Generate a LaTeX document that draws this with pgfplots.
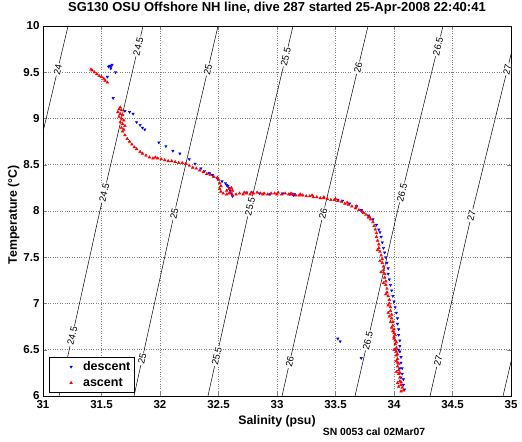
\documentclass[border=0pt]{standalone}
\usepackage{fontspec}
\setmainfont{Liberation Sans}
\usepackage{pgfplots}
\pgfplotsset{compat=1.18}
\begin{document}
\begin{tikzpicture}
\tikzset{clabel/.style={fill=white, inner sep=1pt, rotate=77, font=\fontsize{9.5}{10}\selectfont}}
\begin{axis}[
  name=ax,
  width=468pt, height=370pt, scale only axis,
  xmin=31, xmax=35, ymin=6, ymax=10,
  xtick={31,31.5,...,35}, ytick={6,6.5,...,10},
  grid=major, major grid style={dotted, line width=0.5pt, black!50},
  tick align=inside, major tick length=4pt,
  axis line style={line width=0.6pt},
  /pgf/number format/assume math mode=true,
  ticklabel style={font=\bfseries\fontsize{11.5}{13}\selectfont},
  xticklabel style={anchor=base, yshift=-13pt},
  title={SG130 OSU Offshore NH line, dive 287 started 25-Apr-2008 22:40:41},
  title style={font=\bfseries\fontsize{13}{15}\selectfont, at={(axis description cs:0.5,1.022)}, anchor=base},
  xlabel={Salinity (psu)}, ylabel={Temperature (°C)},
  label style={font=\bfseries\fontsize{12.3}{14}\selectfont},
  xlabel style={at={(axis description cs:0.5,-0.078)}, anchor=base},
  ylabel style={at={(axis description cs:-0.0556,0.49)}, anchor=base},
  legend style={at={(axis description cs:0.0128,0.0108)}, anchor=south west,
    font=\bfseries\fontsize{12.5}{14}\selectfont, draw=black, inner xsep=2pt, inner ysep=2pt, row sep=2pt},
  legend cell align=left,
  legend image code/.code={\path[draw=none, fill=none] (0cm,0cm) -- (1.05cm,0cm); \draw[#1, only marks] plot coordinates {(0.7cm,0cm)};},
]
% sigma-t contours
\addplot[black, line width=0.5pt, forget plot] coordinates {(30.49,6) (30.84,8) (31.214,10)};
\addplot[black, line width=0.5pt, forget plot] coordinates {(31.137,6) (31.486,8) (31.855,10)};
\addplot[black, line width=0.5pt, forget plot] coordinates {(31.778,6) (32.127,8) (32.496,10)};
\addplot[black, line width=0.5pt, forget plot] coordinates {(32.41,6) (32.76,8) (33.137,10)};
\addplot[black, line width=0.5pt, forget plot] coordinates {(33.043,6) (33.40,8) (33.778,10)};
\addplot[black, line width=0.5pt, forget plot] coordinates {(33.667,6) (34.03,8) (34.419,10)};
\addplot[black, line width=0.5pt, forget plot] coordinates {(34.308,6) (34.67,8) (35.06,10)};
\addplot[black, line width=0.5pt, forget plot] coordinates {(34.932,6) (35.30,8) (35.70,10)};
\node[clabel] at (axis cs:31.126,9.53) {24};
\node[clabel] at (axis cs:31.814,9.78) {24.5};
\node[clabel] at (axis cs:31.523,8.20) {24.5};
\node[clabel] at (axis cs:31.250,6.65) {24.5};
\node[clabel] at (axis cs:32.409,9.53) {25};
\node[clabel] at (axis cs:32.122,7.97) {25};
\node[clabel] at (axis cs:31.848,6.40) {25};
\node[clabel] at (axis cs:33.075,9.67) {25.5};
\node[clabel] at (axis cs:32.769,8.05) {25.5};
\node[clabel] at (axis cs:32.485,6.43) {25.5};
\node[clabel] at (axis cs:33.693,9.55) {26};
\node[clabel] at (axis cs:33.395,7.97) {26};
\node[clabel] at (axis cs:33.109,6.37) {26};
\node[clabel] at (axis cs:34.376,9.78) {26.5};
\node[clabel] at (axis cs:34.069,8.20) {26.5};
\node[clabel] at (axis cs:33.776,6.60) {26.5};
\node[clabel] at (axis cs:34.968,9.53) {27};
\node[clabel] at (axis cs:34.661,7.95) {27};
\node[clabel] at (axis cs:34.377,6.38) {27};
% descent
\addplot[only marks, mark=triangle*, mark size=1.4pt, color=blue, mark options={rotate=180, fill=blue, draw=blue}] coordinates {
(31.57,9.57) (31.58,9.56) (31.59,9.58) (31.56,9.56) (31.58,9.54) (31.62,9.50) (31.55,9.45)
(31.60,9.22) (31.70,9.08) (31.74,9.07) (31.77,9.05) (31.80,8.96) (31.83,8.93) (31.85,8.90)
(31.87,8.88) (31.99,8.74) (32.05,8.70) (32.11,8.65) (32.17,8.62) (32.25,8.56) (32.30,8.51)
(32.35,8.46) (32.38,8.43) (32.42,8.41) (32.45,8.39) (32.49,8.35) (32.53,8.32) (32.56,8.30)
(32.57,8.28) (32.59,8.25) (32.58,8.27) (32.60,8.22) (32.61,8.19) (32.62,8.16) (32.74,8.20)
(32.79,8.20) (32.85,8.19) (32.94,8.18) (33.05,8.19) (33.11,8.18) (33.15,8.18) (33.14,8.17)
(33.52,8.12) (33.56,8.11) (33.62,8.08) (33.68,8.05) (33.72,8.01) (33.78,7.95) (33.82,7.91)
(33.85,7.85) (33.87,7.80) (33.88,7.77) (33.89,7.72) (33.90,7.66) (33.91,7.60) (33.92,7.55)
(33.93,7.50) (33.94,7.44) (33.95,7.38) (33.95,7.32) (33.96,7.26) (33.97,7.20) (33.98,7.14)
(33.99,7.08) (34.00,7.02) (34.01,6.96) (34.02,6.90) (34.03,6.84) (34.03,6.78) (34.04,6.72)
(34.04,6.66) (34.05,6.60) (34.05,6.54) (34.05,6.48) (34.06,6.42) (34.06,6.36) (34.07,6.30)
(34.07,6.24) (34.08,6.18) (34.08,6.12) (34.09,6.07) (34.04,6.50) (34.05,6.30) (34.06,6.20)
(33.52,6.62) (33.54,6.59) (33.72,6.41)
};
\addlegendentry{descent}
% ascent
\addplot[only marks, mark=triangle*, mark size=1.6pt, color=red, mark options={fill=red, draw=red}] coordinates {
(31.41,9.53) (31.42,9.52) (31.44,9.50) (31.46,9.48) (31.48,9.46) (31.50,9.45) (31.52,9.43)
(31.53,9.41) (31.55,9.39)
(31.66,9.12) (31.65,9.10) (31.67,9.09) (31.64,9.07) (31.66,9.05) (31.68,9.04) (31.65,9.02)
(31.67,9.00) (31.69,8.98) (31.66,8.96) (31.68,8.94) (31.70,8.92) (31.67,8.90) (31.69,8.88)
(31.68,8.86) (31.70,8.82) (31.72,8.78) (31.74,8.75) (31.76,8.72) (31.78,8.69) (31.80,8.67)
(31.83,8.64) (31.85,8.62) (31.88,8.60) (31.91,8.58) (31.94,8.57) (31.96,8.58) (31.98,8.57)
(32.01,8.56) (32.04,8.55) (32.07,8.54) (32.10,8.54) (32.13,8.53) (32.16,8.52) (32.19,8.52)
(32.22,8.51) (32.25,8.49) (32.28,8.47) (32.31,8.46) (32.34,8.44) (32.37,8.42) (32.40,8.40)
(32.43,8.39) (32.46,8.37) (32.49,8.36) (32.50,8.34)
(32.51,8.30) (32.52,8.27) (32.51,8.24) (32.52,8.21) (32.54,8.19) (32.57,8.18) (32.60,8.20)
(32.62,8.22) (32.61,8.25) (32.59,8.24) (32.57,8.22) (32.59,8.19) (32.62,8.17) (32.65,8.18)
(32.68,8.19)
(32.71,8.18) (32.74,8.19) (32.77,8.18) (32.80,8.19) (32.83,8.20) (32.86,8.19) (32.89,8.19)
(32.92,8.18) (32.95,8.19) (32.98,8.19) (33.01,8.20) (33.04,8.18) (33.07,8.19) (33.10,8.18)
(33.13,8.18) (33.16,8.17) (33.19,8.17) (33.22,8.17) (33.25,8.16) (33.28,8.16) (33.31,8.15)
(33.34,8.15) (33.37,8.14) (33.40,8.14) (33.43,8.13) (33.46,8.12) (33.49,8.12) (33.52,8.11)
(33.55,8.10) (33.58,8.08) (33.61,8.07) (33.64,8.05) (33.67,8.03) (33.70,8.01) (33.73,7.99)
(33.76,7.96) (33.78,7.93) (33.80,7.91) (33.82,7.88) (33.83,7.84) (33.84,7.80) (33.85,7.76)
(33.85,7.72) (33.86,7.68) (33.87,7.64) (33.87,7.60) (33.88,7.56) (33.89,7.52) (33.90,7.48)
(33.90,7.44) (33.91,7.40) (33.91,7.36) (33.92,7.32) (33.92,7.28) (33.93,7.24) (33.93,7.20)
(33.94,7.16) (33.94,7.12) (33.95,7.08) (33.96,7.04) (33.96,7.00) (33.97,6.96) (33.97,6.92)
(33.98,6.88) (33.98,6.84) (33.99,6.80) (33.99,6.76) (34.00,6.72) (34.00,6.68) (34.00,6.64)
(34.01,6.60) (34.01,6.56) (34.02,6.52) (34.02,6.48) (34.02,6.44) (34.03,6.40) (34.03,6.36)
(34.03,6.32) (34.04,6.28) (34.04,6.24) (34.05,6.20) (34.05,6.16) (34.06,6.12) (34.07,6.09)
(34.08,6.06)
(33.86,7.58) (33.88,7.46) (33.89,7.34) (33.91,7.22) (33.93,7.10) (33.95,6.98) (33.96,6.86)
(33.98,6.74) (34.00,6.62) (34.01,6.50) (34.02,6.38) (34.02,6.26) (34.03,6.14) (34.06,6.05)
(34.04,6.10) (34.00,6.50) (34.03,6.45) (34.04,6.35) (34.05,6.25) (34.06,6.15) (34.02,6.58)
(33.99,6.70) (34.01,6.66) (33.97,6.80) (33.95,6.90)
(32.72,8.20) (32.78,8.20) (32.88,8.18) (33.00,8.18) (33.12,8.19) (33.20,8.18) (33.30,8.17)
(33.40,8.15) (33.50,8.13) (33.60,8.09) (33.68,8.05) (33.74,7.98) (33.79,7.94)
};
\addlegendentry{ascent}
\end{axis}
\node[anchor=base, font=\bfseries\fontsize{10.4}{12}\selectfont] at ([xshift=331pt, yshift=-40pt]ax.south west) {SN 0053 cal 02Mar07};
\pgfresetboundingbox
\path ([xshift=-43pt,yshift=-46pt]ax.south west) rectangle ([xshift=11pt,yshift=26pt]ax.north east);
\end{tikzpicture}
\end{document}
